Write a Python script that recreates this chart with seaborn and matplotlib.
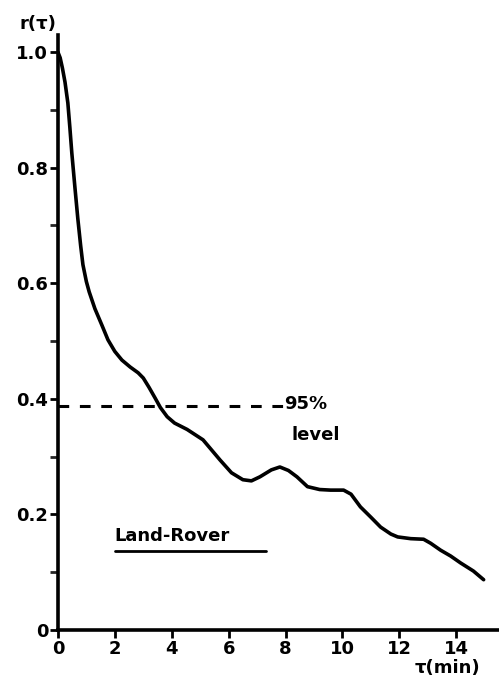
import numpy as np
import pandas as pd
import matplotlib
matplotlib.use("Agg")
import matplotlib.pyplot as plt
import seaborn as sns

# --- datos ---
tau = [0.0, 0.08, 0.16, 0.25, 0.35, 0.42, 0.49, 0.6, 0.70, 0.8, 0.88, 1.0, 1.1,
       1.3, 1.55, 1.76, 2.0, 2.25, 2.54, 2.82, 3.0, 3.2, 3.42, 3.6, 3.84, 4.1,
       4.54, 5.1, 5.7, 6.1, 6.5, 6.8, 7.1, 7.5, 7.8, 8.1, 8.4, 8.77, 9.2, 9.58,
       10.04, 10.3, 10.63, 11.0, 11.34, 11.7, 11.94, 12.4, 12.85, 13.1, 13.45,
       13.8, 14.15, 14.6, 14.96]
r = [1.0, 0.99, 0.972, 0.948, 0.912, 0.87, 0.825, 0.765, 0.712, 0.665, 0.632,
     0.603, 0.585, 0.556, 0.527, 0.502, 0.482, 0.467, 0.455, 0.445, 0.436, 0.42,
     0.401, 0.385, 0.369, 0.358, 0.347, 0.329, 0.294, 0.272, 0.26, 0.258, 0.265,
     0.277, 0.282, 0.276, 0.265, 0.248, 0.243, 0.242, 0.242, 0.235, 0.213, 0.195,
     0.178, 0.166, 0.161, 0.158, 0.157, 0.15, 0.138, 0.128, 0.116, 0.102, 0.087]
nivel_95 = 0.388
x_ticks = [0, 2, 4, 6, 8, 10, 12, 14]
y_ticks = [0, 0.2, 0.4, 0.6, 0.8, 1.0]
y_labels = ["0", "0.2", "0.4", "0.6", "0.8", "1.0"]

df = pd.DataFrame({"tau": tau, "r": r})

sns.set_style("ticks")
plt.rcParams["font.family"] = ["DejaVu Sans"]
plt.rcParams["font.weight"] = "bold"
plt.rcParams["text.color"] = "black"

fig = plt.figure(figsize=(4.99, 6.87), dpi=100)
ax = fig.add_axes([0.116, 0.083, 0.884, 0.8665])

sns.lineplot(data=df, x="tau", y="r", ax=ax, color="black", linewidth=2.6,
             solid_joinstyle="round", solid_capstyle="round")
ax.plot([0, 7.9], [nivel_95, nivel_95], color="black", linestyle=(0, (3.5, 3.5)),
        linewidth=2.2)

ax.set_xlim(0, 15.5)
ax.set_ylim(0, 1.03)
ax.set_xticks(x_ticks)
ax.set_yticks(y_ticks)
ax.set_yticklabels(y_labels)
ax.set_yticks(np.arange(0.1, 1.0, 0.2), minor=True)
ax.tick_params(axis="both", which="major", direction="out", length=6, width=2,
               labelsize=13, colors="black", pad=1)
ax.tick_params(axis="y", which="minor", direction="out", length=6, width=2)
for lab in ax.get_xticklabels() + ax.get_yticklabels():
    lab.set_fontweight("bold")

sns.despine(ax=ax)
for side in ["left", "bottom"]:
    ax.spines[side].set_linewidth(2.6)
    ax.spines[side].set_color("black")
ax.set_xlabel("")
ax.set_ylabel("")

fig.text(0.04, 0.965, "r(τ)", fontsize=13, fontweight="bold", ha="left", va="center")
ax.text(13.7, -0.065, "τ(min)", fontsize=13, fontweight="bold", ha="center", va="center")
ax.text(7.95, nivel_95 + 0.003, "95%", fontsize=13, fontweight="bold", ha="left", va="center")
ax.text(8.2, 0.337, "level", fontsize=13, fontweight="bold", ha="left", va="center")
ax.text(2.0, 0.162, "Land-Rover", fontsize=13, fontweight="bold", ha="left", va="center")
ax.plot([2.0, 7.3], [0.137, 0.137], color="black", linewidth=2)

fig.savefig("out.png", dpi=100)
